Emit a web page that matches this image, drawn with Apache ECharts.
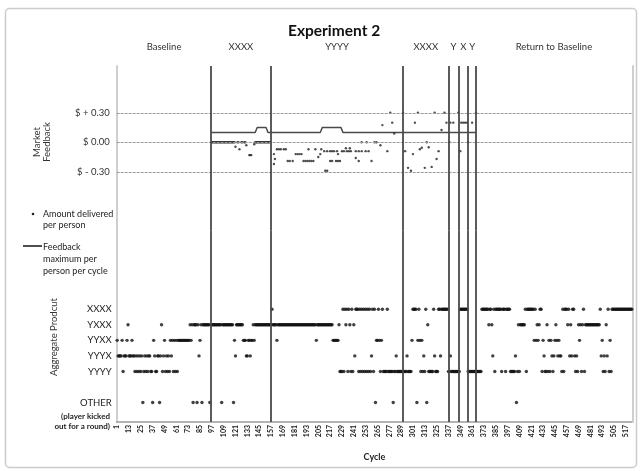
<!DOCTYPE html>
<html><head><meta charset="utf-8">
<script src="https://cdn.jsdelivr.net/npm/echarts@6/dist/echarts.min.js"></script>
<style>html,body{margin:0;padding:0;background:#fff}#c{width:640px;height:471px}</style>
</head><body><div id="c"></div>
<script>
// ---------------- DATA ----------------
const N_CYCLES = 523;
const tickLabels = [1,13,25,37,49,61,73,85,97,109,121,133,145,157,169,181,193,205,217,229,241,253,265,277,289,301,313,325,337,349,361,373,385,397,409,421,433,445,457,469,481,493,505,517];
// Aggregate product rows (axis value -> label)
const productNames = {'5':'XXXX','4':'YXXX','3':'YYXX','2':'YYYX','1':'YYYY','-1':'OTHER'};
// code per cycle: 5=XXXX 4=YXXX 3=YYXX 2=YYYX 1=YYYY 0=OTHER ; 12 cycles per string
const productByCycle = [
"322223122234", // 1-12
"222322121212", // 13-24
"120121212211", // 25-36
"032112202412", // 37-48
"312121323131", // 49-60
"313333333333", // 61-72
"334340444042", // 73-84
"340444444404", // 85-96
"444444444404", // 97-108
"444444444403", // 109-120
"244444443332", // 121-132
"233233434444", // 133-144
"444444444444", // 145-156
"454444344444", // 157-168
"444444444444", // 169-180
"444444444444", // 181-192
"444444444434", // 193-204
"444444444444", // 205-216
"444333333411", // 217-228
"151545154151", // 229-240
"425551515151", // 241-252
"515151251503", // 253-264
"353135111151", // 265-276
"111101121111", // 277-288
"111111211113", // 289-300
"555503531312", // 301-312
"150411111521", // 313-324
"115525555555", // 325-336
"112111111111", // 337-348
"555555551111", // 349-360
"111111111155", // 361-372
"555554554251", // 373-384
"555555155515", // 385-396
"555111112014", // 397-408
"144444515555", // 409-420
"555353434551", // 421-432
"321141313212", // 433-444
"343232215155", // 445-456
"545242552121", // 457-468
"434145144444", // 469-480
"444444444452", // 481-492
"312142513155", // 493-504
"555555555555", // 505-516
"5555555"       // 517-523
];
// Amount delivered per person: [cycle, $]
const delivered = [
[97,0],[98,0],[99,0],[100,0],[101,0],[102,0],[103,0],[104,0],[105,0],[106,0],[107,0],[108,0],[109,0],[110,0],[111,0],[112,0],[113,0],[114,0],[115,0],[116,0],[117,0],[118,0],[119,0],[120,0],
[123,0],[124,0],[127,0],[128,0],[130,0],[131,0],
[141,0],[142,0],[143,0],[144,0],[145,0],[146,0],[147,0],[148,0],[149,0],[150,0],[151,0],[152,0],[153,0],[154,0],[155,0],[156,0],
[121,-0.045],[125,-0.07],[132,-0.03],[135,-0.13],[136,-0.13],[137,-0.13],[140,-0.02],
[160,-0.12],[160,-0.22],[161,-0.17],
[163,-0.07],[165,-0.07],[167,-0.07],[170,-0.07],[172,-0.07],
[174,-0.19],[176,-0.19],[179,-0.19],
[182,-0.12],[184,-0.12],[186,-0.12],[188,-0.12],
[190,-0.19],[192,-0.19],[194,-0.19],[196,-0.19],[198,-0.19],[200,-0.19],
[195,-0.07],[202,-0.07],[208,-0.07],
[207,-0.12],[225,-0.12],[205,-0.15],
[211,-0.09],[214,-0.09],[217,-0.09],[219,-0.09],[221,-0.09],[224,-0.09],[229,-0.09],[231,-0.09],[234,-0.09],[236,-0.09],[238,-0.09],[243,-0.09],[246,-0.09],[249,-0.09],[253,-0.09],[256,-0.09],
[233,-0.06],[237,-0.06],[243,-0.16],
[217,-0.19],[219,-0.19],[223,-0.19],[225,-0.19],[227,-0.19],[246,-0.19],[259,-0.19],
[212,-0.29],[214,-0.29],
[249,0],[254,0],[262,0],[264,0],[268,-0.03],[275,-0.09],
[270,0.175],[280,0.2],[278,0.3],[282,0.09],
[291,0.3],[306,0.3],[323,0.3],[333,0.3],[303,0.2],[330,0.125],[315,0],[293,-0.09],[327,-0.09],[301,-0.12],[308,-0.07],[310,-0.055],[317,-0.05],[325,-0.17],[296,-0.26],[313,-0.26],[299,-0.29],[320,-0.25],
[335,0.2],[339,0.2],[342,0.2],[350,0.2],[352,0.2],[354,0.2],[356,0.2],[361,0.2],[338,0],[357,0],[347,0.3],[365,0.3],[349,-0.09]
];
// Feedback maximum per person per cycle (breakpoints): [cycle, $]
const feedbackMax = [[96,0.1],[141,0.1],[143,0.15],[152,0.15],[154,0.1],[207,0.1],[209,0.15],[228,0.15],[230,0.1],[365,0.1]];
const feedbackTicks = {'30':'$ + 0.30','0':'$ 0.00','-30':'$ - 0.30'};
const feedbackRefLines = [0.3, 0, -0.3];
// Phases and boundaries (cycles)
const phases = [['Baseline',1,96],['XXXX',96,157],['YYYY',157,291],['XXXX',291,337],['Y',337,347],['X',347,357],['Y',357,365],['Return to Baseline',365,523]];
const boundaries = [96,157,291,337,347,357,365];

// ---------------- BUILD ----------------
const categories = [];
for (let c = 1; c <= N_CYCLES; c++) categories.push(String(c));
const productData = [];
productByCycle.forEach((s, b) => {
  for (let j = 0; j < s.length; j++) {
    const ch = s[j];
    if (ch === '.') continue;
    const v = ch === '0' ? -1 : +ch;
    productData.push([b * 12 + j, v]);
  }
});
const deliveredData = delivered.map(d => [d[0] - 1, d[1]]);
const fbMaxData = feedbackMax.map(d => [d[0] - 1, d[1]]);
const boundaryLines = boundaries.map(c => ({xAxis: String(c)}));
const phaseAreas = phases.map(p => [{name: p[0], xAxis: String(p[1])}, {xAxis: String(p[2])}]);

const FF = 'Lato, "Open Sans", sans-serif';
const chart = echarts.init(document.getElementById('c'), null, {renderer: 'canvas'});
const gridL = 116.7, gridR = 640 - 632.3;
const vLine = {silent: true, symbol: ['none','none'], label: {show: false},
  lineStyle: {color: '#4a4a4a', width: 1.8, type: 'solid'}, data: boundaryLines, animation: false};

chart.setOption({
  animation: false,
  backgroundColor: '#fff',
  title: {text: 'Experiment 2', left: 283, top: 18,
    textStyle: {fontFamily: FF, fontSize: 15.5, fontWeight: 'bold', color: '#111'}},
  grid: [
    {left: gridL, right: gridR, top: 66, height: 164.8},
    {left: gridL, right: gridR, top: 230.8, height: 191.2}
  ],
  xAxis: [
    {type: 'category', gridIndex: 0, data: categories, show: false, boundaryGap: true},
    {type: 'category', gridIndex: 1, data: categories, boundaryGap: true,
      axisLine: {show: true, onZero: false, lineStyle: {color: '#9a9a9a', width: 1.5, type: [3, 1]}},
      axisTick: {show: false},
      axisLabel: {rotate: 90, margin: 3, fontFamily: FF, fontSize: 7, fontWeight: 'bold', color: '#222',
        interval: (i, v) => tickLabels.indexOf(+v) >= 0},
      name: 'Cycle', nameLocation: 'middle', nameGap: 31,
      nameTextStyle: {fontFamily: FF, fontSize: 9, fontWeight: 'bold', color: '#222'}}
  ],
  yAxis: [
    {type: 'value', gridIndex: 0, min: -0.9, max: 0.776, interval: 0.3,
      axisLine: {show: true, lineStyle: {color: '#cfcfcf', width: 2}},
      axisTick: {show: false}, splitLine: {show: false},
      axisLabel: {margin: 7, fontFamily: FF, fontSize: 9.5, color: '#333',
        formatter: v => feedbackTicks[String(Math.round(v * 100))] || ''}},
    {type: 'value', gridIndex: 0, position: 'right', min: -0.9, max: 0.776,
      axisLine: {show: true, lineStyle: {color: '#cfcfcf', width: 2}},
      axisTick: {show: false}, splitLine: {show: false}, axisLabel: {show: false}},
    {type: 'value', gridIndex: 1, min: -2.25, max: 10.046, interval: 0.25,
      axisLine: {show: true, lineStyle: {color: '#cfcfcf', width: 2}},
      axisTick: {show: false}, splitLine: {show: false},
      axisLabel: {margin: 5, fontFamily: FF, fontSize: 9.5, color: '#222',
        formatter: v => productNames[String(Math.round(v * 100) / 100)] || ''}},
    {type: 'value', gridIndex: 1, position: 'right', min: -2.25, max: 10.046,
      axisLine: {show: true, lineStyle: {color: '#cfcfcf', width: 2}},
      axisTick: {show: false}, splitLine: {show: false}, axisLabel: {show: false}}
  ],
  series: [
    {name: 'Feedback maximum per person per cycle', type: 'line', xAxisIndex: 0, yAxisIndex: 0,
      data: fbMaxData, symbol: 'none', lineStyle: {color: '#4a4a4a', width: 1.5}, z: 3,
      markLine: {silent: true, symbol: ['none','none'], label: {show: false},
        lineStyle: {color: '#9a9a9a', width: 1, type: [3, 1]},
        data: feedbackRefLines.map(v => ({yAxis: v}))},
      markArea: {silent: true, itemStyle: {color: 'rgba(0,0,0,0)'},
        label: {show: true, position: 'top', distance: 14, fontFamily: FF, fontSize: 9.5, color: '#333'},
        data: phaseAreas}},
    {name: 'Amount delivered per person', type: 'scatter', xAxisIndex: 0, yAxisIndex: 0,
      data: deliveredData, symbol: 'circle', symbolSize: 2.4, itemStyle: {color: '#222'},
      markLine: vLine, z: 4},
    {name: 'Aggregate Product', type: 'scatter', xAxisIndex: 1, yAxisIndex: 2,
      data: productData, symbol: 'circle', symbolSize: 3.4, itemStyle: {color: '#111'},
      markLine: vLine, z: 4}
  ],
  graphic: [
    {type: 'rect', silent: true, z: -10, shape: {x: 5.5, y: 8.5, width: 631, height: 459, r: 4},
      style: {fill: 'none', stroke: '#cccccc', lineWidth: 1.5}},
    {type: 'text', x: 42, y: 142, rotation: Math.PI / 2, silent: true,
      style: {text: 'Market\nFeedback', fontFamily: FF, fontSize: 9.5, lineHeight: 10.5, fill: '#333', align: 'center', verticalAlign: 'middle'}},
    {type: 'text', x: 54, y: 337, rotation: Math.PI / 2, silent: true,
      style: {text: 'Aggregate Prodcut', fontFamily: FF, fontSize: 9.5, fill: '#333', align: 'center', verticalAlign: 'middle'}},
    {type: 'text', x: 110, y: 411, silent: true,
      style: {text: '(player kicked\nout for a round)', fontFamily: FF, fontSize: 8, fontWeight: 'bold', lineHeight: 10, fill: '#222', align: 'right', verticalAlign: 'top'}},
    {type: 'circle', silent: true, shape: {cx: 33, cy: 214, r: 1.3}, style: {fill: '#222'}},
    {type: 'text', x: 43, y: 209, silent: true,
      style: {text: 'Amount delivered\nper person', fontFamily: FF, fontSize: 9, lineHeight: 10.5, fill: '#222'}},
    {type: 'line', silent: true, shape: {x1: 23, y1: 246, x2: 42, y2: 246}, style: {stroke: '#222', lineWidth: 1.6}},
    {type: 'text', x: 43, y: 241, silent: true,
      style: {text: 'Feedback\nmaximum per\nperson per cycle', fontFamily: FF, fontSize: 9, lineHeight: 12, fill: '#222'}}
  ]
});
</script></body></html>
